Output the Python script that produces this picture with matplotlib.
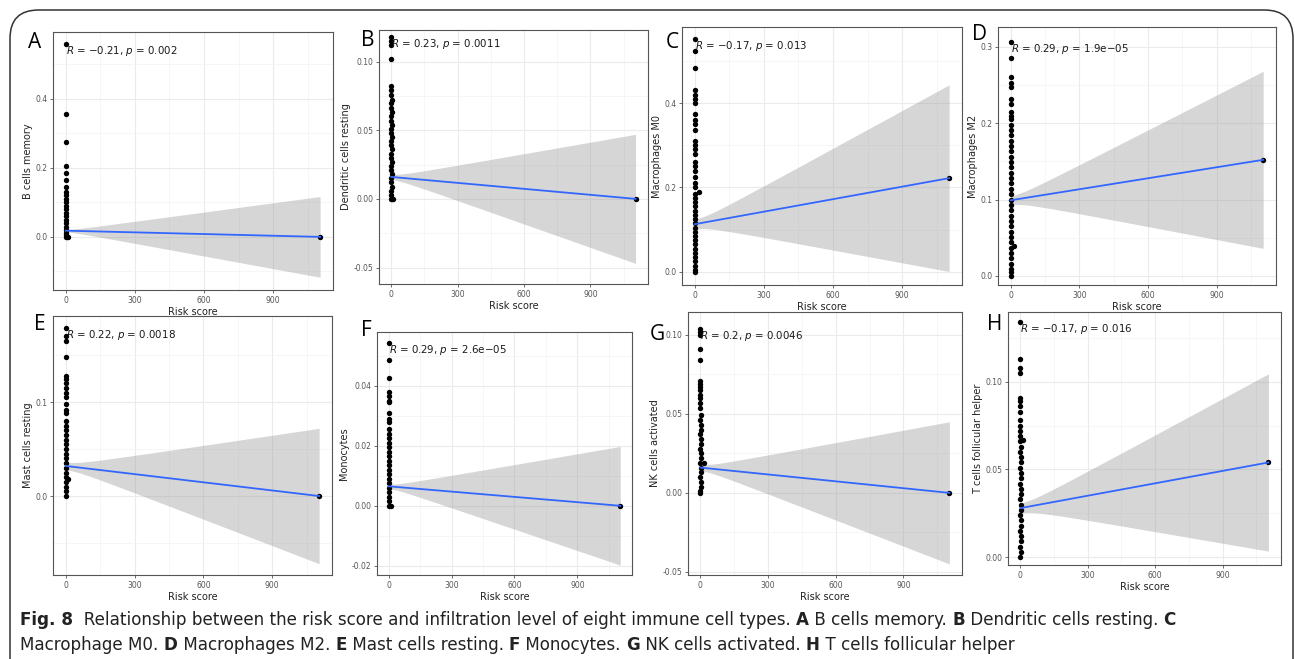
import numpy as np
import matplotlib
matplotlib.use("Agg")
import matplotlib.pyplot as plt
from matplotlib.patches import FancyBboxPatch
from matplotlib.ticker import MultipleLocator

W, H = 1295, 659

# ---- data ----
letters = ["A", "B", "C", "D", "E", "F", "G", "H"]
ylabels = ["B cells memory", "Dendritic cells resting", "Macrophages M0", "Macrophages M2",
           "Mast cells resting", "Monocytes", "NK cells activated", "T cells follicular helper"]
stats = ["$R$ = \u22120.21, $p$ = 0.002", "$R$ = 0.23, $p$ = 0.0011", "$R$ = \u22120.17, $p$ = 0.013",
         "$R$ = 0.29, $p$ = 1.9e\u221205", "$R$ = 0.22, $p$ = 0.0018", "$R$ = 0.29, $p$ = 2.6e\u221205",
         "$R$ = 0.2, $p$ = 0.0046", "$R$ = \u22120.17, $p$ = 0.016"]

outlier_x = 1104

cells_A = [0.56, 0.355, 0.275, 0.205, 0.185, 0.165, 0.145, 0.13, 0.12, 0.11, 0.10, 0.09, 0.08, 0.07,
           0.06, 0.05, 0.04, 0.03, 0.02, 0.012, 0.005, 0.0, 0.0, 0.0]
risk_A = [0, 0, 0, 0, 0, 0, 0, 0, 1, 0, 2, 1, 0, 2, 1, 0, 2, 1, 3, 0, 2, 0, 6, 10]

cells_B = [0.118, 0.115, 0.112, 0.102, 0.082, 0.079, 0.076, 0.072, 0.070, 0.066, 0.063, 0.060, 0.057,
           0.054, 0.051, 0.048, 0.045, 0.042, 0.039, 0.036, 0.033, 0.030, 0.027, 0.024, 0.021, 0.018,
           0.015, 0.012, 0.009, 0.006, 0.003, 0.0, 0.0, 0.0]
risk_B = [0, 1, 0, 0, 0, 1, 0, 2, 1, 0, 2, 1, 0, 2, 1, 0, 2, 1, 0, 2, 1, 0, 2, 1, 0, 2, 1, 0, 2, 1,
          0, 0, 5, 10]

cells_C = [0.552, 0.524, 0.483, 0.43, 0.42, 0.41, 0.40, 0.375, 0.36, 0.35, 0.335, 0.31, 0.30, 0.29,
           0.28, 0.26, 0.25, 0.24, 0.225, 0.21, 0.20, 0.19, 0.185, 0.175, 0.165, 0.155, 0.145, 0.135,
           0.125, 0.115, 0.105, 0.095, 0.085, 0.075, 0.065, 0.055, 0.045, 0.035, 0.025, 0.015, 0.005, 0.0]
risk_C = [0, 0, 0, 0, 0, 0, 0, 0, 0, 0, 0, 0, 0, 0, 0, 0, 0, 0, 0, 0, 0, 18, 1, 0, 2, 1, 0, 2, 1, 0,
          2, 1, 0, 2, 1, 0, 2, 1, 0, 2, 1, 0]

cells_D = [0.306, 0.286, 0.26, 0.252, 0.248, 0.232, 0.225, 0.215, 0.21, 0.205, 0.198, 0.191, 0.184,
           0.177, 0.170, 0.163, 0.156, 0.149, 0.142, 0.135, 0.128, 0.121, 0.114, 0.107, 0.100, 0.093,
           0.086, 0.079, 0.072, 0.065, 0.058, 0.051, 0.044, 0.039, 0.037, 0.030, 0.023, 0.016, 0.009,
           0.005, 0.0]
risk_D = [0, 0, 0, 0, 0, 0, 0, 0, 0, 1, 0, 2, 1, 0, 2, 1, 0, 2, 1, 0, 2, 1, 0, 2, 1, 0, 2, 1, 0, 2,
          1, 0, 2, 14, 1, 0, 2, 1, 0, 0, 0]

cells_E = [0.179, 0.17, 0.165, 0.148, 0.128, 0.125, 0.12, 0.115, 0.11, 0.105, 0.098, 0.092, 0.088,
           0.08, 0.075, 0.070, 0.065, 0.060, 0.055, 0.050, 0.045, 0.040, 0.035, 0.030, 0.025, 0.020,
           0.018, 0.015, 0.010, 0.005, 0.0]
risk_E = [0, 0, 0, 0, 0, 0, 0, 0, 0, 0, 0, 0, 0, 0, 1, 0, 2, 1, 0, 2, 1, 0, 2, 1, 0, 2, 12, 1, 0, 2, 0]

cells_F = [0.0544, 0.0485, 0.0425, 0.038, 0.0365, 0.035, 0.0345, 0.031, 0.029, 0.028, 0.0255,
           0.024, 0.0225, 0.021, 0.0195, 0.018, 0.0165, 0.015, 0.0135, 0.012, 0.0105, 0.009,
           0.0075, 0.006, 0.0045, 0.003, 0.0015, 0.0, 0.0]
risk_F = [0, 0, 0, 0, 0, 0, 0, 0, 0, 0, 0, 1, 0, 2, 1, 0, 2, 1, 0, 2, 1, 0, 2, 1, 0, 2, 1, 0, 10]

cells_G = [0.104, 0.102, 0.100, 0.091, 0.084, 0.071, 0.069, 0.067, 0.065, 0.062, 0.060, 0.057, 0.054,
           0.049, 0.046, 0.043, 0.040, 0.037, 0.034, 0.031, 0.028, 0.025, 0.022, 0.019, 0.019, 0.016,
           0.013, 0.010, 0.007, 0.004, 0.001, 0.0]
risk_G = [0, 0, 0, 0, 0, 0, 0, 0, 0, 0, 0, 0, 0, 1, 0, 2, 1, 0, 2, 1, 0, 2, 1, 0, 15, 2, 1, 0, 2, 1,
          0, 0]

cells_H = [0.134, 0.113, 0.108, 0.105, 0.091, 0.089, 0.086, 0.083, 0.078, 0.075, 0.072, 0.069, 0.067,
           0.066, 0.063, 0.060, 0.057, 0.054, 0.051, 0.048, 0.045, 0.042, 0.039, 0.036, 0.033, 0.030,
           0.027, 0.024, 0.021, 0.018, 0.015, 0.012, 0.009, 0.006, 0.003, 0.0]
risk_H = [0, 0, 0, 0, 0, 0, 0, 0, 0, 0, 0, 0, 12, 0, 1, 0, 2, 1, 0, 2, 1, 0, 2, 1, 0, 2, 1, 0, 2, 1,
          0, 2, 1, 0, 2, 0]

# value of the outlier (x = 1104) in each panel
outlier_y = [0.0, 0.0, 0.222, 0.152, 0.0, 0.0, 0.0, 0.054]

# fitted line at x = 0 and x = 1104, band half width at both ends
fit_start = [0.018, 0.016, 0.113, 0.099, 0.032, 0.0065, 0.016, 0.028]
fit_end = [0.0, 0.0, 0.222, 0.152, 0.0, 0.0, 0.0, 0.054]
band_start = [0.004, 0.002, 0.012, 0.006, 0.004, 0.0008, 0.002, 0.003]
band_end = [0.117, 0.047, 0.221, 0.116, 0.072, 0.0198, 0.045, 0.0505]

ylims = [(-0.154, 0.594), (-0.062, 0.123), (-0.031, 0.58), (-0.012, 0.326),
         (-0.084, 0.1915), (-0.0231, 0.058), (-0.052, 0.1145), (-0.0044, 0.1397)]
ysteps = [0.2, 0.05, 0.2, 0.1, 0.1, 0.02, 0.05, 0.05]
ytick_fmt = ["%.1f", "%.2f", "%.1f", "%.1f", "%.1f", "%.2f", "%.2f", "%.2f"]

risk = [risk_A, risk_B, risk_C, risk_D, risk_E, risk_F, risk_G, risk_H]
cells = [cells_A, cells_B, cells_C, cells_D, cells_E, cells_F, cells_G, cells_H]

# ---- layout (pixel boxes: left, top, right, bottom) ----
boxes = [(53, 32, 333, 290), (379, 30, 648, 284), (682, 27, 962, 285), (998, 27, 1276, 285),
         (53, 316, 332, 575), (377, 332, 632, 575), (688, 312, 962, 575), (1008, 312, 1281, 565)]
letter_pos = [(35, 43), (368, 41), (672, 42), (980, 35), (40, 325), (366, 330), (657, 334), (995, 325)]

fig = plt.figure(figsize=(W / 100, H / 100), dpi=100)
fig.patch.set_facecolor("white")

# rounded frame around the whole figure
frame = FancyBboxPatch((10 / W, -0.2), 1283 / W, (H - 10) / H + 0.2,
                       boxstyle="round,pad=0,rounding_size=0.022",
                       transform=fig.transFigure, fill=False, ec="#333333", lw=1.1,
                       mutation_aspect=W / H)
fig.patches.append(frame)

for i in range(8):
    l, t, r, b = boxes[i]
    ax = fig.add_axes([l / W, 1 - b / H, (r - l) / W, (b - t) / H])
    ax.set_xlim(-55, 1160)
    ax.set_ylim(*ylims[i])
    ax.xaxis.set_major_locator(MultipleLocator(300))
    ax.xaxis.set_minor_locator(MultipleLocator(150))
    ax.yaxis.set_major_locator(MultipleLocator(ysteps[i]))
    ax.yaxis.set_minor_locator(MultipleLocator(ysteps[i] / 2))
    ax.yaxis.set_major_formatter(matplotlib.ticker.FormatStrFormatter(ytick_fmt[i]))
    ax.grid(which="major", color="#EBEBEB", lw=0.8)
    ax.grid(which="minor", color="#F3F3F3", lw=0.5)
    ax.set_axisbelow(True)
    for s in ax.spines.values():
        s.set_color("#555555")
        s.set_linewidth(0.8)
    ax.tick_params(which="major", length=2.5, width=0.6, color="#555555",
                   labelsize=5.5, labelcolor="#555555", pad=1.5)
    ax.tick_params(which="minor", length=0)

    # regression band and line
    xs = np.linspace(0, outlier_x, 120)
    fit = fit_start[i] + (fit_end[i] - fit_start[i]) * xs / outlier_x
    half = np.sqrt(band_start[i] ** 2 + (band_end[i] ** 2 - band_start[i] ** 2) * (xs / outlier_x) ** 2)
    ax.fill_between(xs, fit - half, fit + half, color="#999999", alpha=0.4, lw=0, zorder=2)

    ax.scatter(risk[i] + [outlier_x], cells[i] + [outlier_y[i]], s=15, color="black",
               lw=0, zorder=3)
    ax.plot([0, outlier_x], [fit_start[i], fit_end[i]], color="#3366FF", lw=1.3, zorder=4)

    ax.text(0, max(cells[i]), stats[i], fontsize=7.4, ha="left", va="top", color="#1A1A1A",
            zorder=5)
    ax.set_xlabel("Risk score", fontsize=7, labelpad=2, color="#222222")
    ax.set_ylabel(ylabels[i], fontsize=7, labelpad=2, color="#222222")

    lx, ly = letter_pos[i]
    fig.text(lx / W, 1 - ly / H, letters[i], fontsize=15, ha="center", va="center",
             family="Open Sans")

# ---- caption with bold runs ----
cap_font = ["Liberation Sans Narrow", "DejaVu Sans"]
line1 = [("Fig. 8", True), ("  Relationship between the risk score and infiltration level of eight "
                            "immune cell types. ", False),
         ("A", True), (" B cells memory. ", False), ("B", True), (" Dendritic cells resting. ", False),
         ("C", True)]
line2 = [("Macrophage M0. ", False), ("D", True), (" Macrophages M2. ", False), ("E", True),
         (" Mast cells resting. ", False), ("F", True), (" Monocytes. ", False), ("G", True),
         (" NK cells activated. ", False), ("H", True), (" T cells follicular helper", False)]

fig.canvas.draw()
renderer = fig.canvas.get_renderer()
for parts, y in [(line1, 620), (line2, 645)]:
    x = 20
    for txt, bold in parts:
        t = fig.text(x / W, 1 - y / H, txt, fontsize=12.1, family=cap_font,
                     fontweight="bold" if bold else "normal", ha="left", va="center",
                     color="#222222")
        bb = t.get_window_extent(renderer)
        x += bb.width

fig.savefig("out.png", dpi=100)
